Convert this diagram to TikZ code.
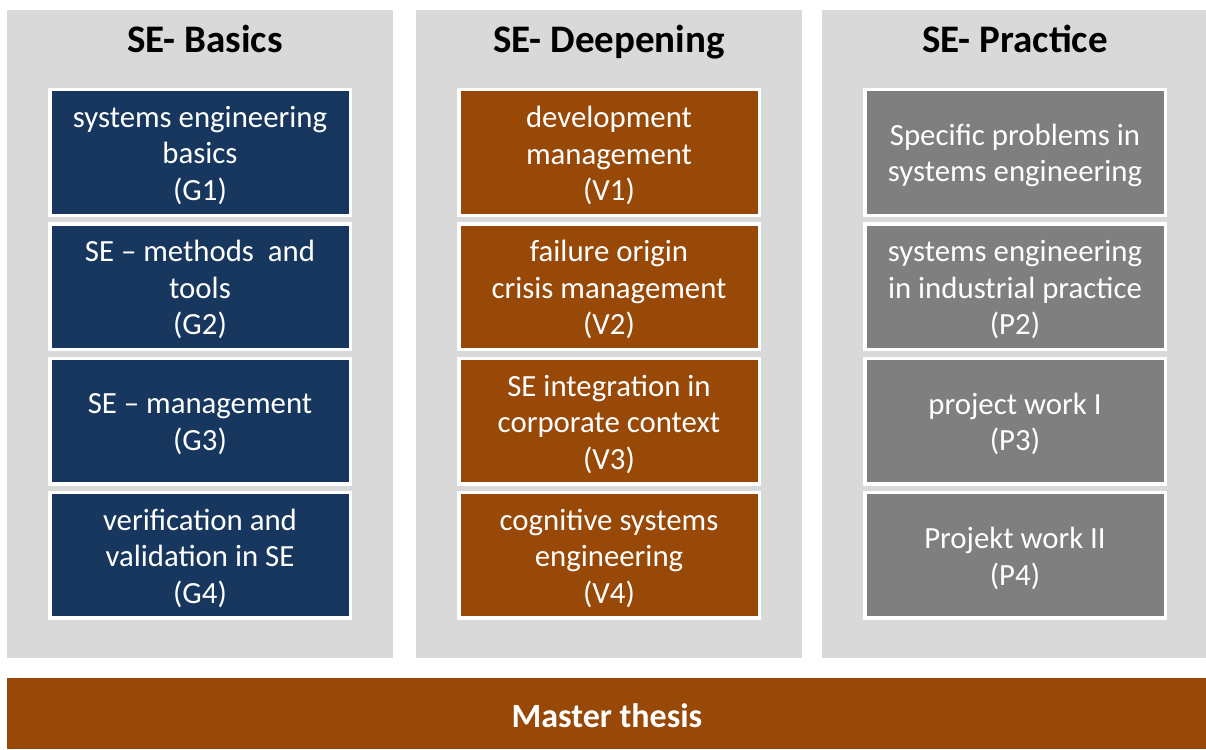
\documentclass[tikz,border=0pt]{standalone}
\usepackage{fontspec}
\setmainfont{Carlito}
\definecolor{navy}{HTML}{17375E}
\definecolor{rust}{HTML}{984807}
\definecolor{slate}{HTML}{7F7F7F}
\definecolor{panel}{HTML}{D9D9D9}
\tikzset{
  colbg/.style={fill=panel, draw=none, minimum width=386pt, minimum height=648pt, inner sep=0pt},
  coltitle/.style={font=\fontsize{39}{46}\selectfont\bfseries, text=black, inner sep=0pt, anchor=base},
  modbox/.style={draw=white, line width=3.5pt, minimum width=300.5pt, minimum height=125.5pt, inner sep=0pt},
  gbox/.style={modbox, fill=navy},
  vbox/.style={modbox, fill=rust},
  pbox/.style={modbox, fill=slate},
  boxtext/.style={inner sep=0pt, align=center, text=white, font=\fontsize{30.8}{36.6}\selectfont, yshift=-3pt},
  thesisbar/.style={fill=rust, draw=none, minimum width=1199pt, minimum height=71pt, inner sep=0pt},
  thesistext/.style={inner sep=0pt, anchor=base, text=white, font=\fontsize{34}{40}\selectfont\bfseries}
}
\begin{document}
\begin{tikzpicture}[x=1pt, y=-1pt]
\useasboundingbox (0,0) rectangle (1206,749);
\fill[white] (0,0) rectangle (1206,749);
% column panels
\node[colbg] (c1) at (200,334) {};
\node[colbg] (c2) at (609,334) {};
\node[colbg, minimum width=384pt] (c3) at (1014,334) {};
% titles
\node[coltitle] (t1) at (205,53) {SE- Basics};
\node[coltitle] (t2) at (609,53) {SE- Deepening};
\node[coltitle] (t3) at (1015,53) {SE- Practice};
% column 1
\node[gbox] (g1) at (200,152.5) {};
\node[gbox] (g2) at (200,286.8) {};
\node[gbox] (g3) at (200,421.1) {};
\node[gbox] (g4) at (200,555.4) {};
\node[boxtext] (g1t) at (g1) {systems engineering\\basics\\(G1)};
\node[boxtext] (g2t) at (g2) {SE – methods\ \ and\\tools\\(G2)};
\node[boxtext] (g3t) at (g3) {SE – management\\(G3)};
\node[boxtext] (g4t) at (g4) {verification and\\validation in SE\\(G4)};
% column 2
\node[vbox] (v1) at (609,152.5) {};
\node[vbox] (v2) at (609,286.8) {};
\node[vbox] (v3) at (609,421.1) {};
\node[vbox] (v4) at (609,555.4) {};
\node[boxtext] (v1t) at (v1) {development\\management\\(V1)};
\node[boxtext] (v2t) at (v2) {failure origin\\crisis management\\(V2)};
\node[boxtext] (v3t) at (v3) {SE integration in\\corporate context\\(V3)};
\node[boxtext] (v4t) at (v4) {cognitive systems\\engineering\\(V4)};
% column 3
\node[pbox] (p1) at (1015,152.5) {};
\node[pbox] (p2) at (1015,286.8) {};
\node[pbox] (p3) at (1015,421.1) {};
\node[pbox] (p4) at (1015,555.4) {};
\node[boxtext] (p1t) at (p1) {Specific problems in\\systems engineering};
\node[boxtext] (p2t) at (p2) {systems engineering\\in industrial practice\\(P2)};
\node[boxtext] (p3t) at (p3) {project work I\\(P3)};
\node[boxtext] (p4t) at (p4) {Projekt work II\\(P4)};
% master thesis bar
\node[thesisbar] (mt) at (606.5,713.5) {};
\node[thesistext] (mtt) at (607,727) {Master thesis};
\end{tikzpicture}
\end{document}
